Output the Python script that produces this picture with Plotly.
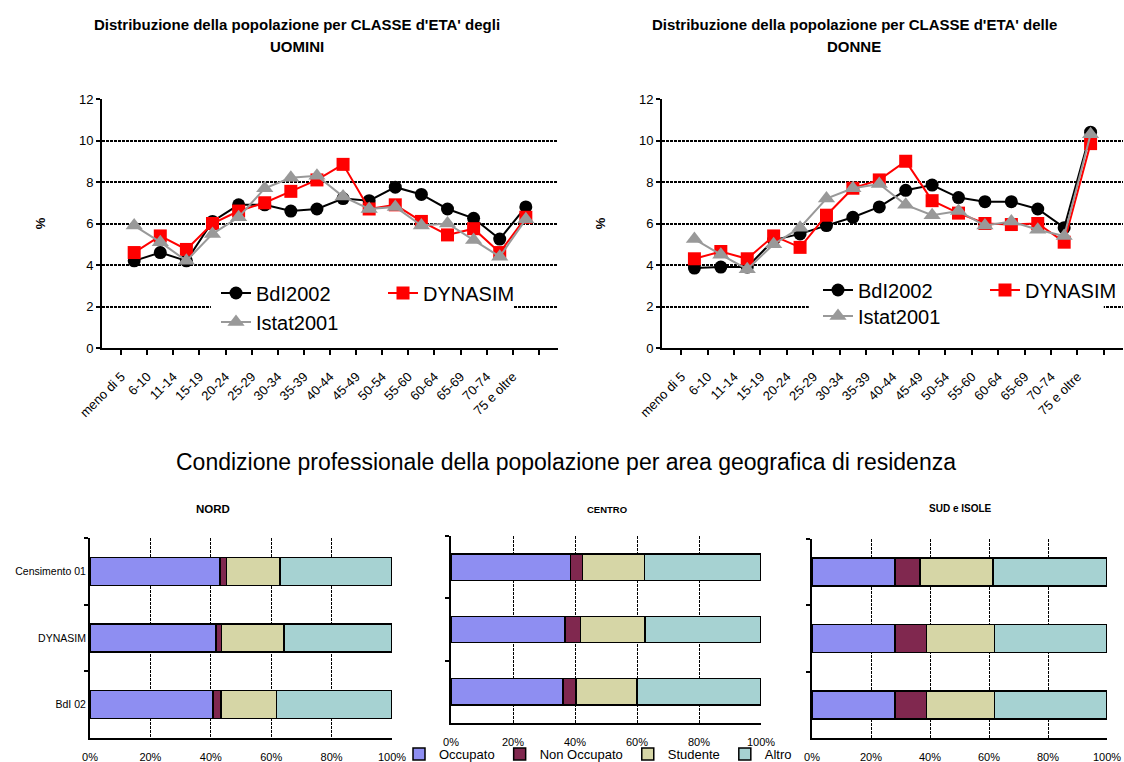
import plotly.graph_objects as go

W, H = 1124, 762

# Age classes (x categories of the two line charts)
eta = ["meno di 5", "6-10", "11-14", "15-19", "20-24", "25-29", "30-34", "35-39",
       "40-44", "45-49", "50-54", "55-60", "60-64", "65-69", "70-74", "75 e oltre"]

# Men, % per age class
uomini_bdi = [4.2, 4.6, 4.2, 6.1, 6.9, 6.9, 6.6, 6.7, 7.2, 7.1, 7.75, 7.4, 6.7, 6.25, 5.25, 6.8]
uomini_dyn = [4.6, 5.4, 4.75, 6.0, 6.6, 7.0, 7.55, 8.1, 8.85, 6.7, 6.9, 6.1, 5.45, 5.75, 4.6, 6.3]
uomini_istat = [5.9, 5.1, 4.2, 5.5, 6.3, 7.7, 8.2, 8.3, 7.3, 6.7, 6.8, 5.9, 6.0, 5.2, 4.4, 6.2]

# Women, % per age class
donne_bdi = [3.85, 3.9, 3.9, 5.2, 5.5, 5.9, 6.3, 6.8, 7.6, 7.85, 7.25, 7.05, 7.05, 6.7, 5.8, 10.4]
donne_dyn = [4.3, 4.65, 4.3, 5.4, 4.85, 6.4, 7.7, 8.1, 9.0, 7.1, 6.5, 6.0, 5.95, 6.0, 5.1, 9.85]
donne_istat = [5.25, 4.5, 3.8, 5.0, 5.8, 7.2, 7.7, 7.9, 6.9, 6.4, 6.6, 5.9, 6.1, 5.7, 5.4, 10.3]

# Professional condition by area (% of population), one value per source
fonti = ["Censimento 01", "DYNASIM", "BdI 02"]
condizioni = ["Occupato", "Non Occupato", "Studente", "Altro"]

nord_occ = [43.0, 41.7, 40.8]
nord_non = [2.2, 1.9, 2.5]
nord_stu = [17.7, 20.7, 18.5]
nord_alt = [37.1, 35.7, 38.2]

centro_occ = [38.5, 36.7, 36.1]
centro_non = [3.9, 5.0, 4.3]
centro_stu = [20.0, 20.8, 19.6]
centro_alt = [37.6, 37.5, 40.0]

sud_occ = [28.1, 28.1, 28.1]
sud_non = [8.5, 10.7, 10.7]
sud_stu = [24.7, 23.0, 23.0]
sud_alt = [38.7, 38.2, 38.2]

FONT = "Liberation Sans, Arial, sans-serif"
NARROW = "Liberation Sans Narrow, Arial Narrow, Liberation Sans, sans-serif"


def px_x(p):
    return p / W


def px_y(p):
    return 1 - p / H


fig = go.Figure()

# ---- line charts ----
series_style = [
    ("BdI2002", dict(color="#000000", width=2), dict(symbol="circle", size=13, color="#000000")),
    ("DYNASIM", dict(color="#FF0000", width=2), dict(symbol="square", size=13, color="#FF0000")),
    ("Istat2001", dict(color="#999999", width=2), dict(symbol="triangle-up", size=15, color="#999999")),
]

for (xa, ya, data, legs) in [
    ("x", "y", [uomini_bdi, uomini_dyn, uomini_istat], ["legend", "legend", "legend2"]),
    ("x2", "y2", [donne_bdi, donne_dyn, donne_istat], ["legend3", "legend3", "legend4"]),
]:
    for (name, line, marker), vals, leg in zip(series_style, data, legs):
        fig.add_trace(go.Scatter(
            x=eta, y=vals, name=name, mode="lines+markers",
            line=line, marker=marker, xaxis=xa, yaxis=ya, legend=leg,
        ))

# ---- stacked bar charts ----
colori = ["#8E8EF2", "#80284F", "#D6D6A6", "#A6D2D2"]
aree = [
    ("x3", "y3", [nord_occ, nord_non, nord_stu, nord_alt], True),
    ("x4", "y4", [centro_occ, centro_non, centro_stu, centro_alt], False),
    ("x5", "y5", [sud_occ, sud_non, sud_stu, sud_alt], False),
]
for xa, ya, serie, show in aree:
    for cond, vals, col in zip(condizioni, serie, colori):
        fig.add_trace(go.Bar(
            x=vals, y=fonti, orientation="h", name=cond,
            marker=dict(color=col, line=dict(color="#000000", width=1.5)),
            xaxis=xa, yaxis=ya, legend="legend5", legendgroup=cond, showlegend=show,
        ))

line_x_common = dict(
    type="category", tickangle=-45, tickson="boundaries", ticks="outside", ticklen=5,
    tickcolor="#000", tickwidth=1.5, showline=True, linecolor="#000", linewidth=2,
    showgrid=False, tickfont=dict(family=NARROW, size=13, color="#000"),
    ticklabelshift=-13, ticklabelstandoff=14,
)
line_y_common = dict(
    range=[0, 12], dtick=2, showgrid=True, gridcolor="#000", gridwidth=1.5,
    griddash="3px,1px", showline=True, linecolor="#000", linewidth=2, ticks="outside",
    ticklen=4, tickcolor="#000", tickwidth=1.5, zeroline=False,
    tickfont=dict(family=FONT, size=13, color="#000"),
    title=dict(text="<b>%</b>", font=dict(family=FONT, size=13, color="#000"), standoff=30),
)

bar_x_common = dict(
    range=[0, 100], dtick=20, ticksuffix="%", showgrid=True, gridcolor="#000",
    gridwidth=1.2, griddash="3px,1px", showline=True, linecolor="#000", linewidth=1.5,
    zeroline=False, ticks="", tickfont=dict(family=FONT, size=11, color="#000"),
    ticklabelstandoff=8,
)
bar_y_common = dict(
    type="category", autorange="reversed", tickson="boundaries", ticks="outside",
    ticklen=4, tickcolor="#000", tickwidth=1.5, showline=True, linecolor="#000",
    linewidth=2, showgrid=False, tickfont=dict(family=FONT, size=10.5, color="#000"),
)

fig.update_layout(
    width=W, height=H,
    margin=dict(l=0, r=0, t=0, b=0, pad=0, autoexpand=False),
    paper_bgcolor="#FFFFFF", plot_bgcolor="#FFFFFF",
    font=dict(family=FONT, color="#000"),
    barmode="stack", bargap=0.58,
    xaxis=dict(domain=[px_x(102), px_x(558)], anchor="y", **line_x_common),
    yaxis=dict(domain=[px_y(348), px_y(99)], anchor="x", **line_y_common),
    xaxis2=dict(domain=[px_x(662), px_x(1123)], anchor="y2", **line_x_common),
    yaxis2=dict(domain=[px_y(348), px_y(99)], anchor="x2", **line_y_common),
    xaxis3=dict(domain=[px_x(90), px_x(392)], anchor="y3", **bar_x_common),
    yaxis3=dict(domain=[px_y(738), px_y(538)], anchor="x3", **bar_y_common),
    xaxis4=dict(domain=[px_x(451), px_x(761)], anchor="y4", **bar_x_common),
    yaxis4=dict(domain=[px_y(723), px_y(536)], anchor="x4", showticklabels=False, **bar_y_common),
    xaxis5=dict(domain=[px_x(812), px_x(1107)], anchor="y5", **bar_x_common),
    yaxis5=dict(domain=[px_y(738), px_y(539)], anchor="x5", showticklabels=False, **bar_y_common),
)

leg_font = dict(family=FONT, size=20, color="#000")
leg_common = dict(orientation="h", xanchor="left", yanchor="middle", entrywidth=122,
                  bgcolor="rgba(0,0,0,0)", font=leg_font)
fig.update_layout(
    legend=dict(x=px_x(216), y=px_y(293), **leg_common),
    legend2=dict(x=px_x(216), y=px_y(322), **leg_common),
    legend3=dict(x=px_x(818), y=px_y(290), **leg_common),
    legend4=dict(x=px_x(818), y=px_y(316), **leg_common),
    legend5=dict(orientation="h", x=px_x(598), y=px_y(754), xanchor="center",
                 yanchor="middle", bgcolor="rgba(0,0,0,0)",
                 font=dict(family=FONT, size=13, color="#000")),
)

# white boxes behind the line-chart legends (hide gridlines under them)
fig.add_shape(type="rect", xref="x", yref="y", x0=2.94, x1=14.52,
              y0=0.1, y1=3.85, fillcolor="#FFFFFF", line_width=0, layer="above")
fig.add_shape(type="rect", xref="x2", yref="y2", x0=4.33, x1=15.5,
              y0=0.1, y1=3.85, fillcolor="#FFFFFF", line_width=0, layer="above")

# titles
ann = []
tf = dict(family=FONT, size=15, color="#000")
ann.append(dict(text="<b>Distribuzione della popolazione per CLASSE d'ETA' degli</b>",
                x=px_x(297), y=px_y(25), font=tf))
ann.append(dict(text="<b>UOMINI</b>", x=px_x(297), y=px_y(47), font=tf))
ann.append(dict(text="<b>Distribuzione della popolazione per CLASSE d'ETA' delle</b>",
                x=px_x(854), y=px_y(25), font=tf))
ann.append(dict(text="<b>DONNE</b>", x=px_x(854), y=px_y(47), font=tf))
ann.append(dict(text="Condizione professionale della popolazione per area geografica di residenza",
                x=px_x(566), y=px_y(462), font=dict(family=FONT, size=23, color="#000")))
ann.append(dict(text="<b>NORD</b>", x=px_x(213), y=px_y(509),
                font=dict(family=FONT, size=11.5, color="#000")))
ann.append(dict(text="<b>CENTRO</b>", x=px_x(607), y=px_y(509),
                font=dict(family=FONT, size=9.5, color="#000")))
ann.append(dict(text="<b>SUD e ISOLE</b>", x=px_x(960), y=px_y(508),
                font=dict(family=FONT, size=10, color="#000")))
for a in ann:
    a.update(xref="paper", yref="paper", xanchor="center", yanchor="middle", showarrow=False)
fig.update_layout(annotations=ann)

fig.write_html("out.html")
